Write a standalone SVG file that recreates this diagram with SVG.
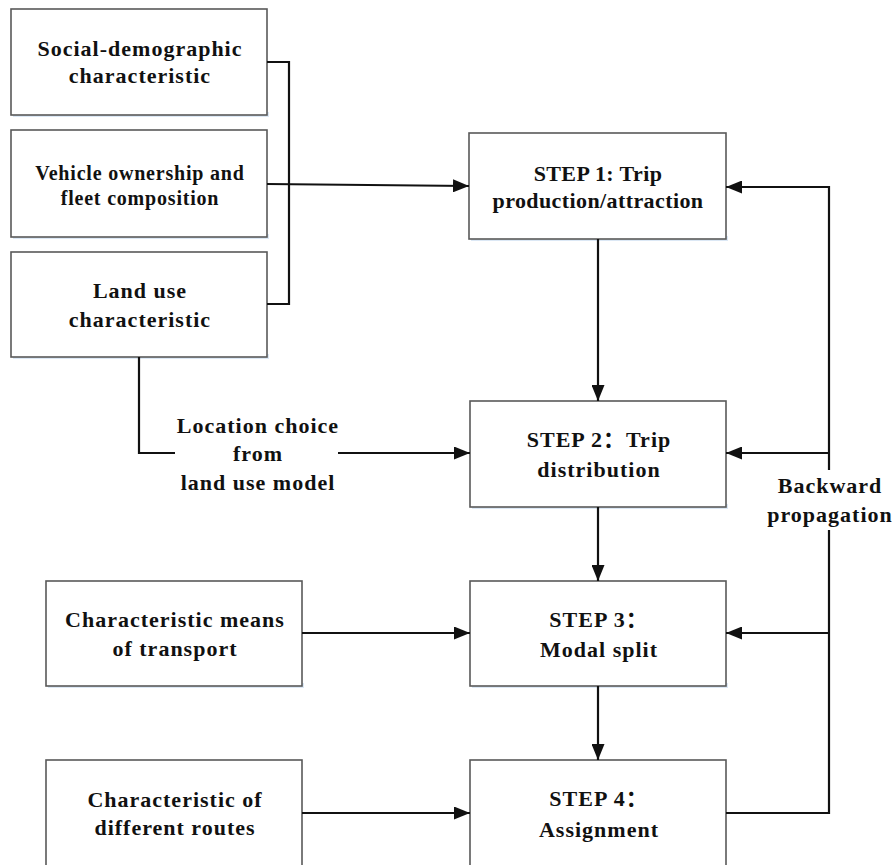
<svg xmlns="http://www.w3.org/2000/svg" width="896" height="865" viewBox="0 0 896 865">
  <style>
    .box { fill: #ffffff; stroke: #595959; stroke-width: 1.6; }
    .shadow { fill: #dce8f5; }
    .lbl { font-family: "Liberation Serif", "Noto Sans CJK SC", serif; font-weight: bold; font-size: 22px; fill: #111111; text-anchor: middle; letter-spacing: 1px; }
    .sm { font-size: 20px; letter-spacing: 0.8px; }
    .tight { letter-spacing: 0.4px; }
    .wire { fill: none; stroke: #111111; stroke-width: 2.2; }
  </style>
  <defs>
    <marker id="arrow" viewBox="0 0 16 13" refX="16" refY="6.5" markerWidth="16" markerHeight="13" markerUnits="userSpaceOnUse" orient="auto">
      <path d="M0,0 L16,6.5 L0,13 Z" fill="#111111"/>
    </marker>
  </defs>
  <rect width="896" height="865" fill="#ffffff"/>

  <!-- input boxes -->
  <g id="social">
    <rect class="shadow" x="13" y="112" width="256" height="5"/>
    <rect class="box" x="11" y="9" width="256" height="106"/>
    <text class="lbl" x="140" y="56">Social-demographic</text>
    <text class="lbl" x="140" y="83">characteristic</text>
  </g>
  <g id="vehicle">
    <rect class="shadow" x="13" y="234" width="256" height="5"/>
    <rect class="box" x="11" y="130" width="256" height="107"/>
    <text class="lbl sm" x="140" y="180">Vehicle ownership and</text>
    <text class="lbl sm" x="140" y="205">fleet composition</text>
  </g>
  <g id="landuse">
    <rect class="shadow" x="13" y="354" width="256" height="5"/>
    <rect class="box" x="11" y="252" width="256" height="105"/>
    <text class="lbl" x="140" y="298">Land use</text>
    <text class="lbl" x="140" y="327">characteristic</text>
  </g>
  <g id="means">
    <rect class="shadow" x="48" y="683" width="256" height="5"/>
    <rect class="box" x="46" y="581" width="256" height="105"/>
    <text class="lbl" x="175" y="627">Characteristic means</text>
    <text class="lbl" x="175" y="656">of transport</text>
  </g>
  <g id="routes">
    <rect class="box" x="46" y="760" width="256" height="120"/>
    <text class="lbl" x="175" y="807">Characteristic of</text>
    <text class="lbl" x="175" y="835">different routes</text>
  </g>

  <!-- model steps -->
  <g id="step1">
    <rect class="shadow" x="471" y="236" width="257" height="5"/>
    <rect class="box" x="469" y="133" width="257" height="106"/>
    <text class="lbl tight" x="598" y="181">STEP 1: Trip</text>
    <text class="lbl tight" x="598" y="208">production/attraction</text>
  </g>
  <g id="step2">
    <rect class="shadow" x="472" y="504" width="256" height="5"/>
    <rect class="box" x="470" y="401" width="256" height="106"/>
    <text class="lbl" x="599" y="447">STEP 2：Trip</text>
    <text class="lbl" x="599" y="477">distribution</text>
  </g>
  <g id="step3">
    <rect class="shadow" x="472" y="683" width="256" height="5"/>
    <rect class="box" x="470" y="581" width="256" height="105"/>
    <text class="lbl" x="599" y="627">STEP 3：</text>
    <text class="lbl" x="599" y="657">Modal split</text>
  </g>
  <g id="step4">
    <rect class="box" x="470" y="760" width="256" height="120"/>
    <text class="lbl" x="599" y="806">STEP 4：</text>
    <text class="lbl" x="599" y="837">Assignment</text>
  </g>

  <!-- free labels -->
  <g id="location-label">
    <text class="lbl" x="258" y="433">Location choice</text>
    <text class="lbl" x="258" y="461">from</text>
    <text class="lbl" x="258" y="490">land use model</text>
  </g>
  <g id="backward-label">
    <text class="lbl" x="830" y="493">Backward</text>
    <text class="lbl" x="830" y="522">propagation</text>
  </g>

  <!-- connectors -->
  <g id="connectors">
    <!-- bracket joining the three input boxes -->
    <path class="wire" d="M267,62 H289 V304 H267"/>
    <path class="wire" d="M267,184 L469,186" marker-end="url(#arrow)"/>
    <!-- land use to trip distribution -->
    <path class="wire" d="M139,357 V453 H175"/>
    <path class="wire" d="M338,453 H470" marker-end="url(#arrow)"/>
    <!-- step chain -->
    <path class="wire" d="M598,239 V401" marker-end="url(#arrow)"/>
    <path class="wire" d="M598,507 V581" marker-end="url(#arrow)"/>
    <path class="wire" d="M598,686 V760" marker-end="url(#arrow)"/>
    <!-- external inputs to steps -->
    <path class="wire" d="M302,633 H470" marker-end="url(#arrow)"/>
    <path class="wire" d="M302,813 H470" marker-end="url(#arrow)"/>
    <!-- backward propagation loop -->
    <path class="wire" d="M726,813 H829 V530"/>
    <path class="wire" d="M829,470 V187 H726" marker-end="url(#arrow)"/>
    <path class="wire" d="M829,453 H726" marker-end="url(#arrow)"/>
    <path class="wire" d="M829,633 H726" marker-end="url(#arrow)"/>
  </g>
</svg>
